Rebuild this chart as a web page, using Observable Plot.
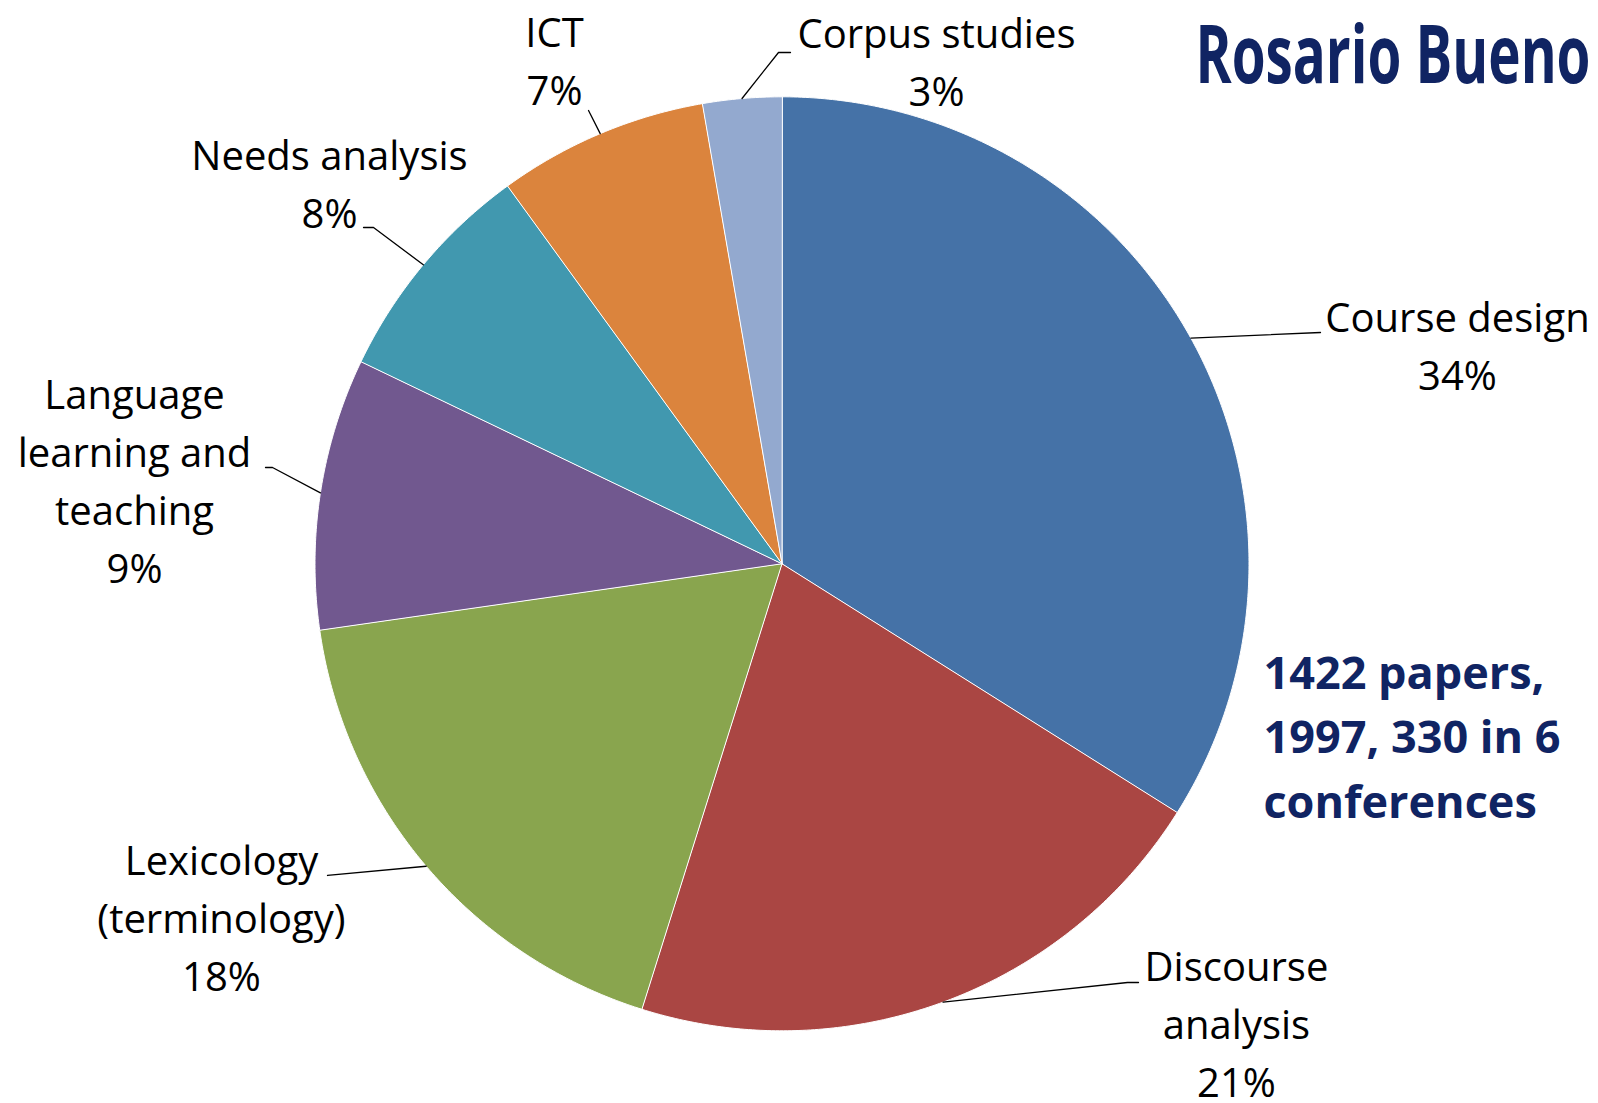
<!DOCTYPE html>
<html><head><meta charset="utf-8">
<script src="https://cdn.jsdelivr.net/npm/d3@7"></script>
<script src="https://cdn.jsdelivr.net/npm/@observablehq/plot@0.6"></script>
<style>html,body{margin:0;padding:0;background:#fff;} #chart{width:1598px;height:1103px;}</style>
</head><body><div id="chart"></div>
<script>
// ---- data ----
const categories = ["Course design","Discourse analysis","Lexicology (terminology)","Language learning and teaching","Needs analysis","ICT","Corpus studies"];
const labelTexts = ["Course design","Discourse\nanalysis","Lexicology\n(terminology)","Language\nlearning and\nteaching","Needs analysis","ICT","Corpus studies"];
const counts = [112, 69, 59, 31, 26, 24, 9];
const colors = ["#4572A7","#AA4643","#89A54E","#71588F","#4198AF","#DB843D","#93A9CF"];
const titleText = "Rosario Bueno";
const noteLines = ["1422 papers,", "1997, 330 in 6", "conferences"];

// ---- label layout (in pie-radius units, y up) ----
const labelPos = [[1.4465,0.3711],[0.9732,-1.1428],[-1.2002,-0.9158],[-1.3865,-0.0421],[-0.9690,0.7201],[-0.4872,0.9814],[0.3308,0.9813]];
const leaderEnds = [
  [[1.1531,0.4953]],
  [[0.7398,-0.8966],[0.7634,-0.8966]],
  [[-0.9732,-0.6674]],
  [[-1.0910,0.2062],[-1.1060,0.2062]],
  [[-0.8747,0.7201],[-0.8961,0.7201]],
  [[-0.4143,0.9707]],
  [[-0.0075,1.0949],[0.0182,1.0949]]
];

const W = 1598, H = 1103, R = 467, CX = 781.5, CY = 563.3;
const total = d3.sum(counts);
const arcs = d3.pie().sort(null).value(d => d)(counts);

const marks = [];
arcs.forEach((a, i) => {
  const n = Math.max(8, Math.ceil((a.endAngle - a.startAngle) * 120));
  const pts = [[0, 0]];
  for (let k = 0; k <= n; k++) {
    const t = a.startAngle + (a.endAngle - a.startAngle) * k / n;
    pts.push([Math.sin(t), Math.cos(t)]);
  }
  marks.push(Plot.line(pts, {x: d => d[0], y: d => d[1], fill: colors[i], stroke: "white", strokeWidth: 1, curve: "linear-closed"}));
});

arcs.forEach((a, i) => {
  const m = (a.startAngle + a.endAngle) / 2;
  const pts = [[Math.sin(m), Math.cos(m)], ...leaderEnds[i]];
  marks.push(Plot.line(pts, {x: d => d[0], y: d => d[1], stroke: "black", strokeWidth: 1.3}));
});

const labels = categories.map((c, i) => ({
  x: labelPos[i][0], y: labelPos[i][1],
  text: labelTexts[i] + "\n" + Math.round(counts[i] / total * 100) + "%"
}));
marks.push(Plot.text(labels, {x: "x", y: "y", text: "text", fontSize: 40, lineHeight: 1.45, lineAnchor: "bottom", textAnchor: "middle", fill: "black"}));

marks.push(Plot.text([noteLines.join("\n")], {x: () => 1.031, y: () => -0.5433, text: d => d, fontSize: 45, fontWeight: "bold", lineHeight: 1.43, lineAnchor: "bottom", textAnchor: "start", fill: "#102463"}));

marks.push(Plot.text([titleText], {x: () => 1.7313, y: () => 1.0285, text: d => d, fontSize: 80, fontWeight: "bold", lineAnchor: "bottom", textAnchor: "end", fill: "#102463", className: "ttl"}));

const chart = Plot.plot({
  width: W, height: H,
  marginLeft: CX - R, marginRight: W - CX - R, marginTop: CY - R, marginBottom: H - CY - R,
  x: {domain: [-1, 1], axis: null},
  y: {domain: [-1, 1], axis: null},
  style: {fontFamily: "'Open Sans', sans-serif", background: "white", overflow: "visible"},
  marks
});
const t = chart.querySelector(".ttl text");
if (t) { t.setAttribute("textLength", 395); t.setAttribute("lengthAdjust", "spacingAndGlyphs"); }
document.getElementById("chart").appendChild(chart);
</script>
</body></html>
